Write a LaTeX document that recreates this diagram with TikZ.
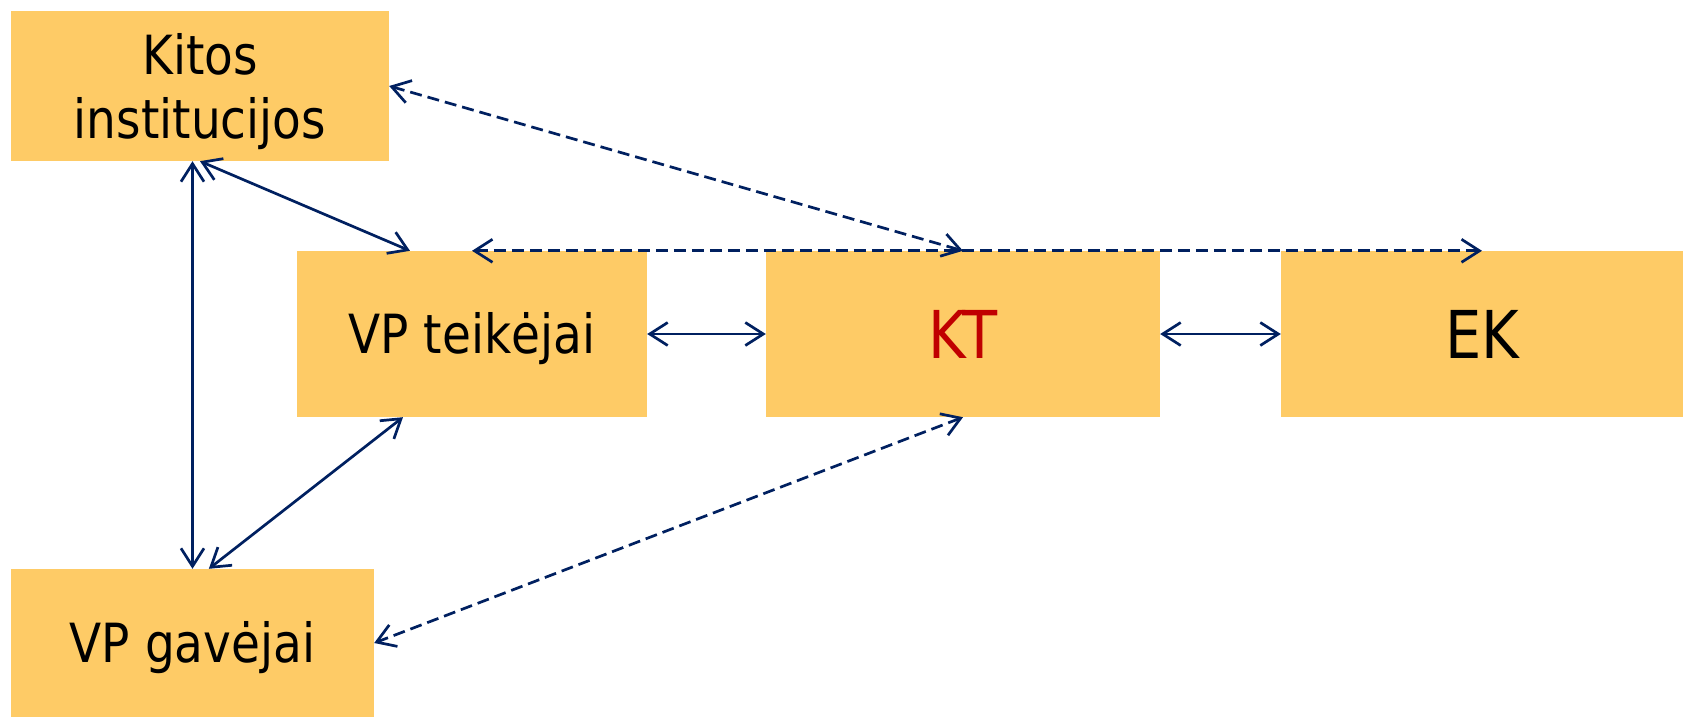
\documentclass[tikz,border=0pt]{standalone}
\usepackage{fontspec}
\setmainfont{DejaVu Sans}[FakeStretch=0.87]
\usetikzlibrary{arrows.meta,calc}
\definecolor{boxfill}{RGB}{254,203,102}
\definecolor{navy}{RGB}{0,32,96}
\definecolor{ktred}{RGB}{192,0,0}
\begin{document}
\begin{tikzpicture}[x=1pt,y=-1pt,
  box/.style={rectangle,fill=boxfill,draw=none,inner sep=0pt,align=center,
    font=\fontsize{54}{64}\selectfont},
  onebox/.style={box,text height=39.4pt,text depth=0pt},
  bigbox/.style={box,font=\fontsize{66}{78}\selectfont,text height=48pt,text depth=0pt},
  link/.style={draw=navy,line width=2.7pt,
    {Straight Barb[length=18pt,width=23pt,line width=2.7pt]}-{Straight Barb[length=18pt,width=23pt,line width=2.7pt]}},
  dlink/.style={link,dash pattern=on 12pt off 6pt}]
\useasboundingbox (0,0) rectangle (1683,717);
\node[box,text depth=0pt,minimum width=378pt,minimum height=150pt] (kitos) at (200,86) {Kitos\\institucijos};
\node[onebox,minimum width=350pt,minimum height=166pt] (vpt) at (472,334) {VP teikėjai};
\node[bigbox,minimum width=394pt,minimum height=166pt,text=ktred] (kt) at (963,334) {KT};
\node[bigbox,minimum width=402pt,minimum height=166pt] (ek) at (1482,334) {EK};
\node[onebox,minimum width=363pt,minimum height=148pt] (gav) at (192.5,643) {VP gavėjai};
\draw[dlink] (kitos.east) -- (kt.north);
\draw[dlink] (vpt.north) -- (ek.north);
\draw[link] (kitos.south) -- ($(vpt.north west)!0.323!(vpt.north east)$);
\draw[link] (gav.north |- kitos.south) -- (gav.north);
\draw[link] ($(vpt.south west)!0.303!(vpt.south east)$) -- ($(gav.north west)!0.545!(gav.north east)$);
\draw[dlink] (kt.south) -- (gav.east);
\draw[link] (vpt.east) -- (kt.west);
\draw[link] (kt.east) -- (ek.west);
\end{tikzpicture}
\end{document}
